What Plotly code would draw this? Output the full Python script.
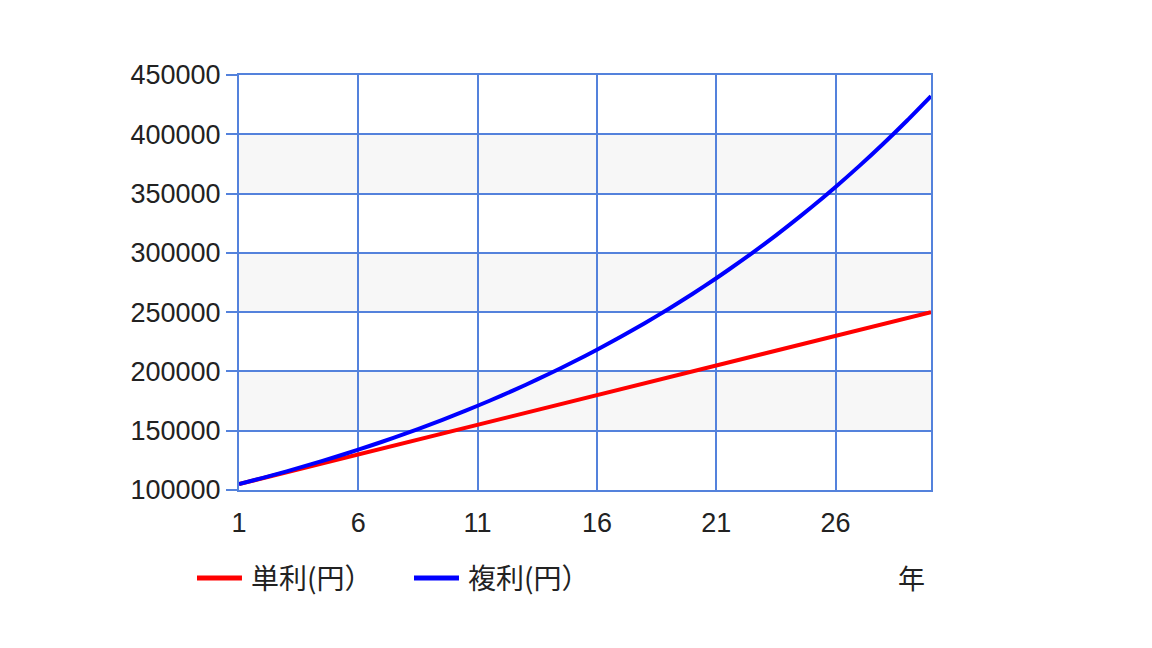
import plotly.graph_objects as go

years = list(range(1, 31))
simple_interest = [105000, 110000, 115000, 120000, 125000, 130000, 135000, 140000, 145000, 150000,
                   155000, 160000, 165000, 170000, 175000, 180000, 185000, 190000, 195000, 200000,
                   205000, 210000, 215000, 220000, 225000, 230000, 235000, 240000, 245000, 250000]
compound_interest = [105000, 110250, 115763, 121551, 127628, 134010, 140710, 147746, 155133, 162889,
                     171034, 179586, 188565, 197993, 207893, 218287, 229202, 240662, 252695, 265330,
                     278596, 292526, 307152, 322510, 338635, 355567, 373346, 392013, 411614, 432194]
series_names = ["単利(円）", "複利(円）"]
series_colors = ["#ff0000", "#0000ff"]
x_ticks = [1, 6, 11, 16, 21, 26]
y_ticks = [100000, 150000, 200000, 250000, 300000, 350000, 400000, 450000]
y_tick_text = ["100000", "150000", "200000", "250000", "300000", "350000", "400000", "450000"]
bands = [(150000, 200000), (250000, 300000), (350000, 400000)]
x_title = "年"

grid = "#5482dc"
fig = go.Figure()
for lo, hi in bands:
    fig.add_shape(type="rect", xref="x", yref="y", x0=1, x1=30, y0=lo, y1=hi,
                  fillcolor="#f7f7f7", line_width=0, layer="below")

fig.add_trace(go.Scatter(x=years, y=simple_interest, mode="lines", name=series_names[0],
                         line=dict(color=series_colors[0], width=4)))
fig.add_trace(go.Scatter(x=years, y=compound_interest, mode="lines", name=series_names[1],
                         line=dict(color=series_colors[1], width=4, shape="spline", smoothing=0.6)))

font = "Liberation Sans, Noto Sans CJK JP, sans-serif"
cjk = "Noto Sans CJK JP, sans-serif"
fig.update_layout(
    width=1152, height=648,
    margin=dict(l=231, r=229, t=67, b=166),
    paper_bgcolor="white", plot_bgcolor="white",
    font=dict(family=font, size=27, color="#222222"),
    showlegend=False,
    xaxis=dict(range=[1, 30], tickvals=x_ticks, showgrid=True, gridcolor=grid, gridwidth=2,
               showline=True, linecolor=grid, linewidth=2, mirror=True, zeroline=False,
               ticks="", ticklen=0, ticklabelstandoff=8, tickfont=dict(size=27)),
    yaxis=dict(range=[100000, 450000], tickvals=y_ticks, ticktext=y_tick_text,
               showgrid=True, gridcolor=grid, gridwidth=2,
               showline=True, linecolor=grid, linewidth=2, mirror=True, zeroline=False,
               ticks="outside", ticklen=11, tickcolor=grid, tickwidth=2, tickfont=dict(size=27)),
)

# legend drawn below the plot (paper coordinates)
leg_y = -0.212
leg_line_x = [(-0.0607, 0.0043), (0.2529, 0.3179)]
leg_text_x = [0.0145, 0.328]
for i in range(2):
    fig.add_shape(type="line", xref="paper", yref="paper", x0=leg_line_x[i][0], x1=leg_line_x[i][1],
                  y0=leg_y, y1=leg_y, line=dict(color=series_colors[i], width=5))
    fig.add_annotation(text=series_names[i], xref="paper", yref="paper", x=leg_text_x[i], y=leg_y + 0.002,
                       xanchor="left", yanchor="middle", showarrow=False,
                       font=dict(size=28, family=cjk, color="#222222"))

fig.add_annotation(text=x_title, xref="paper", yref="paper", x=0.9725, y=-0.21, xanchor="center",
                   yanchor="middle", showarrow=False,
                   font=dict(size=27, family=cjk, color="#222222"))
fig.write_html("out.html")
